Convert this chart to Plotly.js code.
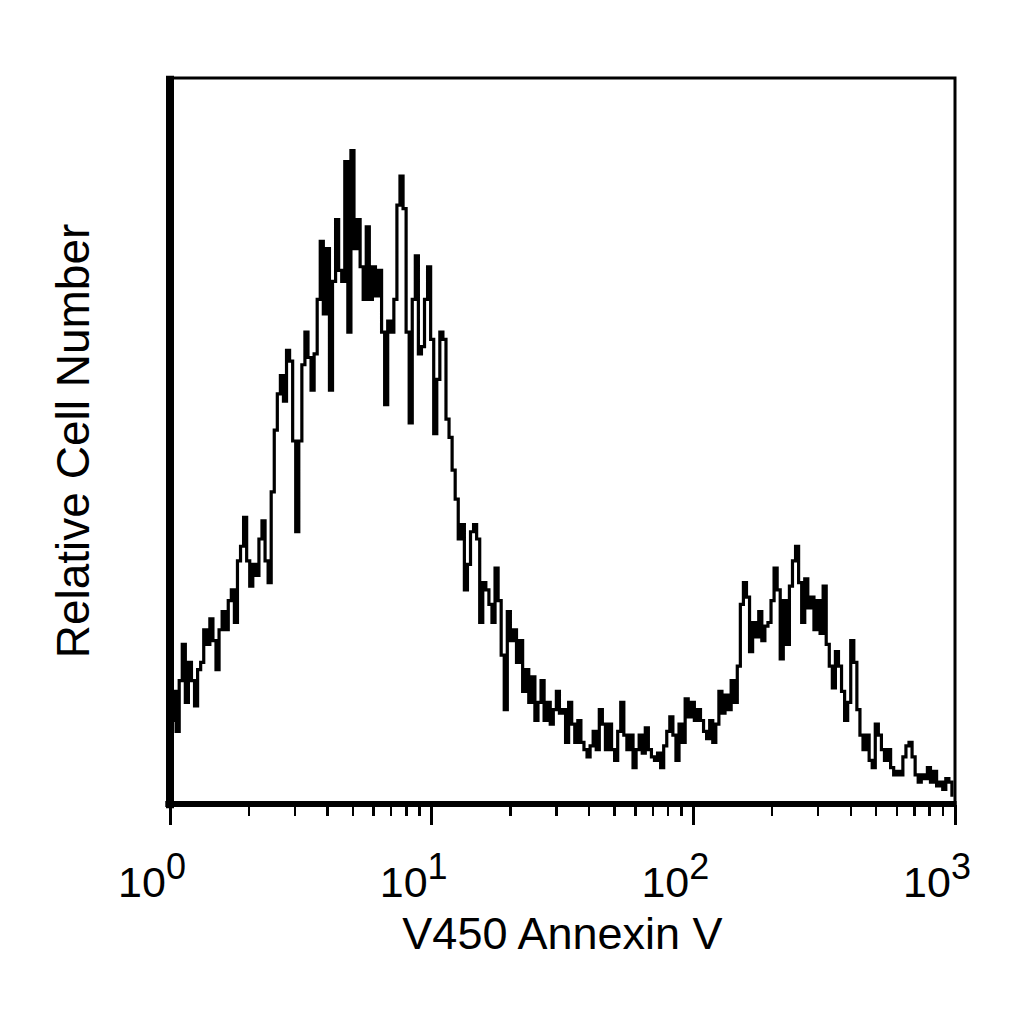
<!DOCTYPE html>
<html>
<head>
<meta charset="utf-8">
<script src="https://cdn.plot.ly/plotly-3.0.1.min.js"></script>
<style>
  html, body { margin: 0; padding: 0; background: #fff; }
  #chart { width: 1024px; height: 1024px; }
</style>
</head>
<body>
<div id="chart"></div>
<script>
// events per channel, 256 log-spaced channels spanning 3 decades
var counts = [
  23, 31, 20, 34, 44, 28, 39, 34, 27, 37, 39, 48, 44, 51, 45, 37,
  48, 53, 48, 56, 59, 50, 67, 71, 79, 67, 60, 66, 63, 73, 78, 67,
  61, 86, 103, 113, 118, 111, 125, 122, 100, 75, 100, 121, 130, 123, 114, 124,
  139, 155, 135, 153, 114, 144, 161, 147, 144, 177, 130, 180, 153, 161, 148, 139,
  159, 139, 148, 140, 147, 130, 110, 133, 130, 139, 165, 173, 164, 130, 105, 139,
  151, 124, 126, 139, 148, 128, 102, 117, 130, 128, 106, 101, 92, 84, 73, 77,
  59, 66, 75, 77, 73, 50, 61, 59, 55, 50, 65, 56, 41, 26, 53, 45,
  48, 39, 45, 31, 37, 28, 35, 23, 28, 34, 23, 28, 22, 26, 31, 25,
  26, 17, 28, 22, 17, 23, 17, 15, 13, 16, 20, 15, 26, 22, 15, 22,
  15, 12, 20, 28, 19, 15, 19, 10, 15, 19, 14, 21, 15, 13, 12, 14,
  10, 16, 20, 24, 19, 12, 22, 17, 29, 24, 28, 23, 26, 23, 20, 18,
  23, 17, 22, 31, 25, 30, 26, 34, 28, 38, 55, 61, 57, 42, 50, 46,
  53, 45, 49, 50, 56, 65, 59, 40, 56, 44, 60, 67, 71, 61, 50, 62,
  54, 57, 48, 56, 47, 60, 44, 38, 32, 42, 38, 31, 23, 28, 45, 39,
  26, 19, 15, 19, 12, 10, 22, 19, 15, 12, 15, 10, 8, 9, 8, 13,
  16, 17, 13, 8, 6, 8, 7, 10, 6, 9, 5, 6, 4, 7, 6, 2
];
var channels = 256;
var decades = 3;

var tickValues = [1, 10, 100, 1000];
var tickExponents = ['0', '1', '2', '3'];
var minorSteps = [2, 3, 4, 5, 6, 7, 8, 9];

var xTitle = 'V450 Annexin V';
var yTitle = 'Relative Cell Number';

// channel left edges on the log scale
var x = counts.map(function (c, i) {
  return Math.pow(10, decades * i / channels);
});

var tickLabels = tickExponents.map(function (e) {
  return '10<sup><span style="font-size:36px">' + e + '</span></sup>';
});

var minorVals = [];
tickValues.slice(0, 3).forEach(function (d) {
  minorSteps.forEach(function (s) { minorVals.push(s * d); });
});

var trace = {
  x: x,
  y: counts,
  type: 'scatter',
  mode: 'lines',
  line: { shape: 'hv', color: '#000', width: 3.2 },
  hoverinfo: 'skip'
};

var font = 'Liberation Sans, Arial, Helvetica, sans-serif';

var layout = {
  width: 1024,
  height: 1024,
  margin: { l: 170, r: 69, t: 78, b: 220 },
  paper_bgcolor: '#fff',
  plot_bgcolor: '#fff',
  showlegend: false,
  font: { family: font, color: '#000' },
  xaxis: {
    type: 'log',
    range: [0, 3],
    tickmode: 'array',
    tickvals: tickValues,
    ticktext: tickLabels,
    ticks: 'outside',
    ticklen: 20,
    tickwidth: 3,
    tickcolor: '#000',
    tickfont: { family: font, size: 43, color: '#000' },
    ticklabelshift: -18,
    ticklabelstandoff: 20,
    minor: {
      tickmode: 'array',
      tickvals: minorVals,
      ticks: 'outside',
      ticklen: 11,
      tickwidth: 2.5,
      tickcolor: '#000',
      showgrid: false
    },
    showgrid: false,
    zeroline: false,
    showline: false,
    title: { text: xTitle, font: { family: font, size: 45, color: '#000' }, standoff: 12 }
  },
  yaxis: {
    range: [0, 200],
    showticklabels: false,
    ticks: '',
    showgrid: false,
    zeroline: false,
    showline: false,
    title: { text: yTitle, font: { family: font, size: 46, color: '#000' }, standoff: 64 }
  },
  shapes: [
    { type: 'rect', xref: 'paper', yref: 'paper', x0: 0, x1: 1, y0: 0, y1: 1,
      line: { color: '#000', width: 3 }, layer: 'above' },
    { type: 'line', xref: 'paper', yref: 'paper', x0: 0, x1: 0, y0: -0.006, y1: 1.003,
      line: { color: '#000', width: 8 }, layer: 'above' },
    { type: 'line', xref: 'paper', yref: 'paper', x0: -0.006, x1: 1.002, y0: 0, y1: 0,
      line: { color: '#000', width: 6 }, layer: 'above' }
  ]
};

Plotly.newPlot('chart', [trace], layout, { staticPlot: true, displayModeBar: false });
</script>
</body>
</html>
